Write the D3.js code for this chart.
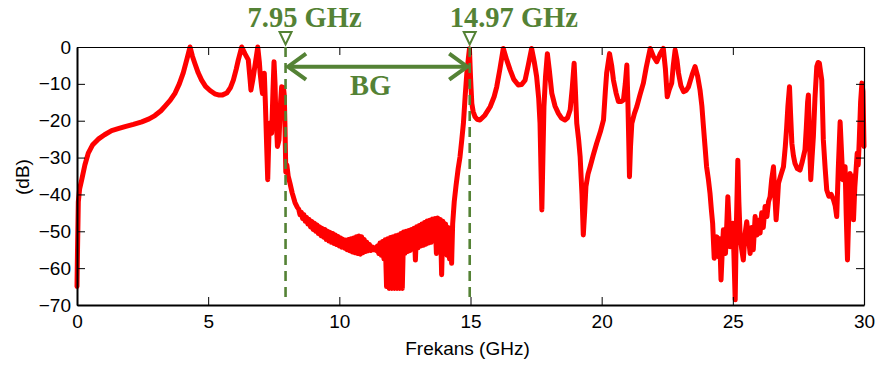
<!DOCTYPE html>
<html>
<head>
<meta charset="utf-8">
<script src="https://cdn.jsdelivr.net/npm/d3@7"></script>
<style>
  html, body { margin: 0; padding: 0; background: #ffffff; }
  svg { display: block; }
</style>
</head>
<body>
<svg id="chart" width="882" height="367"></svg>
<script>
// ---------------- DATA ----------------
const xTicks = [0, 5, 10, 15, 20, 25, 30];
const yTicks = [0, -10, -20, -30, -40, -50, -60, -70];
const xLabel = "Frekans (GHz)";
const yLabel = "(dB)";
const bandEdges = [7.95, 14.97];
const bandEdgeLabels = ["7.95 GHz", "14.97 GHz"];
const bandLabel = "BG";

// [frequency GHz, magnitude dB]
const lowBand = [
  [0, -65], [0.02, -55], [0.05, -42], [0.1, -38.5], [0.18, -36], [0.3, -32], [0.43, -28.8],
  [0.6, -26.5], [0.81, -25], [1.05, -23.8], [1.32, -22.7], [1.6, -22.1], [1.83, -21.6],
  [2.15, -21], [2.47, -20.3], [2.75, -19.5], [2.97, -18.6], [3.2, -17.3], [3.35, -16.1],
  [3.55, -14.5], [3.74, -12.5], [3.9, -10], [4.05, -7], [4.2, -3], [4.31, 0], [4.4, -2.5],
  [4.5, -4.6], [4.62, -7], [4.75, -9], [4.9, -10.7], [5.07, -11.8], [5.25, -12.7], [5.39, -13],
  [5.55, -13], [5.71, -12.5], [5.85, -11], [5.96, -9], [6.07, -6], [6.15, -3.5], [6.28, 0],
  [6.4, -1.8], [6.53, -3.5], [6.6, -9], [6.63, -11.7], [6.7, -9], [6.76, -6.2], [6.89, 0],
  [6.95, -4], [6.98, -7], [7.04, -11], [7.07, -12.6], [7.1, -10], [7.14, -7.1], [7.18, -15],
  [7.23, -27], [7.27, -36], [7.3, -28], [7.33, -20.7], [7.38, -22], [7.42, -23.4], [7.47, -12],
  [7.51, -4], [7.55, -10], [7.57, -16.2], [7.61, -22], [7.64, -27], [7.7, -25.2], [7.76, -15],
  [7.8, -10.8], [7.87, -11], [7.9, -13], [7.93, -22], [7.96, -34], [8.0, -32], [8.05, -35],
  [8.12, -37], [8.2, -39.5], [8.31, -42.2], [8.4, -43.5]
];

const stopBand = [
  [8.45, -44], [8.5, -45.5], [8.55, -44.8], [8.6, -46.5], [8.65, -45.5], [8.7, -47.3],
  [8.75, -46.2], [8.8, -48], [8.85, -46.8], [8.9, -48.8], [8.95, -47.3], [9.0, -49.5],
  [9.05, -47.8], [9.1, -50], [9.15, -48.3], [9.2, -50.6], [9.25, -48.8], [9.3, -51.2],
  [9.35, -49.2], [9.4, -51.6], [9.45, -49.5], [9.5, -52.2], [9.55, -50], [9.6, -52.6],
  [9.65, -50.3], [9.7, -53], [9.75, -50.6], [9.8, -53.3], [9.85, -51], [9.9, -53.6],
  [9.95, -51.4], [10.0, -54], [10.05, -51.8], [10.1, -54.3], [10.15, -52.2], [10.2, -54.6],
  [10.25, -52.4], [10.3, -55], [10.35, -52.2], [10.4, -55.3], [10.45, -52], [10.5, -55.6],
  [10.55, -51.8], [10.6, -55.8], [10.65, -51.5], [10.7, -56], [10.75, -51.3], [10.8, -56.2],
  [10.85, -51.5], [10.9, -55.8], [10.95, -52.2], [11.0, -55.5], [11.05, -53], [11.1, -55.3],
  [11.15, -53.6], [11.2, -55.2], [11.25, -54.2], [11.3, -55], [11.35, -54.5], [11.4, -55.2],
  [11.45, -54], [11.5, -56], [11.55, -53.2], [11.6, -56.5], [11.65, -52.8], [11.7, -57.5],
  [11.75, -52.3], [11.8, -65], [11.85, -52], [11.9, -65.5], [11.95, -51.7], [12.0, -65.5],
  [12.05, -51.5], [12.1, -65.5], [12.15, -51.2], [12.2, -65.5], [12.25, -51], [12.3, -65.5],
  [12.35, -50.6], [12.4, -65.5], [12.45, -50.2], [12.5, -56], [12.55, -50], [12.6, -55.5],
  [12.65, -49.8], [12.7, -55.2], [12.75, -49.5], [12.8, -54.8], [12.85, -49.2], [12.9, -57.8],
  [12.95, -48.8], [13.0, -54.5], [13.05, -48.4], [13.1, -54], [13.15, -48], [13.2, -53.8],
  [13.25, -47.6], [13.3, -53.5], [13.35, -47.2], [13.4, -53.2], [13.45, -47], [13.5, -53],
  [13.55, -46.7], [13.6, -52.5], [13.65, -46.5], [13.7, -56], [13.75, -46.4], [13.8, -52],
  [13.85, -46.8], [13.9, -61.8], [13.95, -47.3], [14.0, -55], [14.05, -48], [14.1, -56.5],
  [14.15, -49], [14.2, -57.5], [14.25, -52], [14.28, -58.7], [14.32, -48]
];

const highBand = [
  [14.38, -42], [14.45, -37.5], [14.53, -33], [14.6, -29.8], [14.67, -25], [14.73, -20.7],
  [14.8, -13], [14.86, -7.1], [14.92, -3], [14.96, -0.5], [15.0, -8], [15.05, -15.3],
  [15.1, -17.5], [15.17, -18.9], [15.25, -19.6], [15.36, -19.8], [15.55, -18.5], [15.75, -16.2],
  [15.9, -13.5], [16.0, -10.8], [16.12, -6], [16.25, -0.4], [16.38, -3.5], [16.51, -6.2],
  [16.65, -8.8], [16.82, -10.3], [16.95, -10.2], [17.08, -9], [17.2, -5], [17.33, -0.4],
  [17.43, -4], [17.52, -8], [17.6, -14], [17.65, -20.7], [17.72, -44.2], [17.76, -30],
  [17.8, -16.2], [17.86, -8], [17.93, -1.8], [18.0, -6], [18.1, -12.6], [18.22, -16],
  [18.35, -18], [18.47, -19.3], [18.6, -19.8], [18.7, -19.2], [18.8, -17], [18.88, -11],
  [18.95, -4.4], [19.0, -12], [19.05, -20.7], [19.12, -25], [19.18, -29.8], [19.25, -40],
  [19.3, -51], [19.35, -45], [19.4, -37.9], [19.48, -34.5], [19.56, -32.5], [19.68, -29.3],
  [19.81, -26.1], [19.95, -23], [20.07, -19.8], [20.14, -12], [20.19, -7.1], [20.3, -1.8],
  [20.38, -5], [20.45, -9], [20.55, -12.5], [20.64, -14.8], [20.75, -14.8], [20.83, -14.4],
  [20.9, -10], [20.96, -4.9], [21.0, -15], [21.04, -28], [21.06, -35.2], [21.1, -27],
  [21.15, -20.7], [21.25, -18], [21.34, -16.2], [21.46, -13], [21.59, -9.8], [21.7, -5.5],
  [21.85, -0.4], [21.97, -2.5], [22.1, -4], [22.22, -2], [22.35, -0.4], [22.43, -6],
  [22.5, -13.5], [22.58, -11.5], [22.67, -9.8], [22.73, -5], [22.8, -0.8], [22.87, -3.5],
  [22.93, -7.1], [23.02, -10.5], [23.12, -12.1], [23.22, -11.8], [23.31, -10.8], [23.45, -7.5],
  [23.56, -5.3], [23.66, -8], [23.75, -11.7], [23.82, -16], [23.88, -21.6], [23.94, -27],
  [24.0, -32.5], [24.07, -36], [24.13, -39.7], [24.18, -44], [24.23, -47.8], [24.29, -57.3],
  [24.34, -53], [24.39, -51.5], [24.43, -55], [24.46, -56.9], [24.5, -52], [24.55, -63.2],
  [24.6, -55], [24.64, -49.6], [24.68, -53], [24.72, -56], [24.77, -48], [24.81, -40.6],
  [24.86, -48], [24.9, -54.2], [24.95, -50], [25.0, -47.8], [25.04, -56], [25.09, -68.6],
  [25.13, -50], [25.19, -30.7], [25.23, -42], [25.28, -51.5], [25.34, -55], [25.4, -57.8],
  [25.46, -51], [25.53, -47.4], [25.6, -52], [25.66, -56], [25.72, -49], [25.78, -55],
  [25.85, -46], [25.92, -51], [25.98, -47], [26.04, -50.5], [26.1, -45], [26.16, -49],
  [26.23, -43.3], [26.3, -46], [26.36, -42], [26.42, -40.6], [26.48, -36], [26.55, -32.5],
  [26.6, -40], [26.65, -46.9], [26.7, -42], [26.74, -37], [26.82, -35], [26.93, -32.5],
  [27.0, -27], [27.05, -22], [27.1, -16], [27.16, -10.8], [27.2, -18], [27.25, -26.1],
  [27.31, -29.5], [27.37, -31.6], [27.46, -33], [27.56, -33.4], [27.65, -31], [27.75, -27.9],
  [27.8, -22], [27.85, -15], [27.88, -13], [27.92, -25], [27.97, -36], [28.02, -30],
  [28.07, -24.3], [28.13, -14], [28.2, -5.3], [28.25, -4.2], [28.3, -4.4], [28.35, -7],
  [28.39, -9], [28.42, -17], [28.45, -25.2], [28.52, -33], [28.58, -38.8], [28.66, -40.5],
  [28.75, -40], [28.84, -41.5], [28.9, -43], [28.96, -46], [29.02, -33], [29.09, -20.3],
  [29.14, -28], [29.19, -36], [29.24, -34], [29.28, -32.5], [29.32, -45], [29.37, -57.8],
  [29.42, -45], [29.47, -34.3], [29.52, -40], [29.56, -35], [29.6, -46.9], [29.65, -38],
  [29.7, -33], [29.74, -28.8], [29.78, -32], [29.82, -25.2], [29.87, -15], [29.92, -9.8],
  [29.96, -12], [30, -27]
];

// ---------------- DRAW ----------------
const svg = d3.select("#chart");
const W = 882, H = 367;
const margin = { left: 77, top: 47, right: 882 - 864, bottom: 367 - 305 };
const green = "#548235";
const axisFont = "'Liberation Sans', Arial, sans-serif";
const serifFont = "'Liberation Serif', 'Times New Roman', serif";

const x = d3.scaleLinear().domain([0, 30]).range([margin.left, W - margin.right]);
const y = d3.scaleLinear().domain([-70, 0]).range([H - margin.bottom, margin.top]);

svg.append("rect").attr("width", W).attr("height", H).attr("fill", "#fff");

// trace
const trace = lowBand.concat(stopBand, highBand);
const line = d3.line().x(d => x(d[0])).y(d => y(d[1]));
svg.append("path")
  .datum(trace)
  .attr("d", line)
  .attr("fill", "none")
  .attr("stroke", "#ff0000")
  .attr("stroke-width", 5)
  .attr("stroke-linejoin", "round")
  .attr("stroke-linecap", "round");

// axes
const tickLen = 8;
const gx = svg.append("g")
  .attr("transform", `translate(0,${y(-70)})`)
  .call(d3.axisBottom(x).tickValues(xTicks).tickFormat(d3.format("d")).tickSizeInner(-tickLen).tickSizeOuter(0).tickPadding(10));
const gxTop = svg.append("g")
  .attr("transform", `translate(0,${y(0)})`)
  .call(d3.axisTop(x).tickValues(xTicks).tickFormat("").tickSizeInner(-tickLen).tickSizeOuter(0));
const gy = svg.append("g")
  .attr("transform", `translate(${x(0)},0)`)
  .call(d3.axisLeft(y).tickValues(yTicks).tickFormat(d3.format("d")).tickSizeInner(-tickLen).tickSizeOuter(0).tickPadding(6));
const gyRight = svg.append("g")
  .attr("transform", `translate(${x(30)},0)`)
  .call(d3.axisRight(y).tickValues(yTicks).tickFormat("").tickSizeInner(-tickLen).tickSizeOuter(0));

[gx, gxTop, gy, gyRight].forEach(g => {
  g.selectAll("text").attr("font-family", axisFont).attr("font-size", 19).attr("fill", "#000");
  g.selectAll(".tick line").attr("stroke", "#000").attr("stroke-width", 1);
});
gx.select(".domain").attr("stroke", "#000").attr("stroke-width", 2);
gy.select(".domain").attr("stroke", "#000").attr("stroke-width", 2);
gxTop.select(".domain").attr("stroke", "#000").attr("stroke-width", 1.2);
gyRight.select(".domain").attr("stroke", "#000").attr("stroke-width", 1.2);

// axis labels
svg.append("text")
  .attr("x", (x(0) + x(30)) / 2 - 3)
  .attr("y", 355)
  .attr("text-anchor", "middle")
  .attr("font-family", axisFont)
  .attr("font-size", 19)
  .text(xLabel);
svg.append("text")
  .attr("transform", `translate(29,${(y(0) + y(-70)) / 2 + 1}) rotate(-90)`)
  .attr("text-anchor", "middle")
  .attr("font-family", axisFont)
  .attr("font-size", 19)
  .text(yLabel);

// band-gap annotations
const labelOffsets = [-38, -20];
bandEdges.forEach((f, i) => {
  const xf = x(f);
  svg.append("line")
    .attr("x1", xf).attr("x2", xf)
    .attr("y1", y(0)).attr("y2", y(-70) - 2)
    .attr("stroke", green).attr("stroke-width", 2.6)
    .attr("stroke-dasharray", "10,6");
  svg.append("path")
    .attr("d", `M${xf - 6},${32} L${xf + 6},${32} L${xf},${44.5} Z`)
    .attr("fill", "#fff").attr("stroke", green).attr("stroke-width", 2);
  svg.append("text")
    .attr("x", xf + labelOffsets[i])
    .attr("y", 27)
    .attr("font-family", serifFont)
    .attr("font-weight", "bold")
    .attr("font-size", 28.5)
    .attr("fill", green)
    .text(bandEdgeLabels[i]);
});

// double arrow
const ay = 66.7;
const ax1 = x(bandEdges[0]) + 2.5, ax2 = x(bandEdges[1]) - 2.5;
svg.append("line")
  .attr("x1", ax1).attr("x2", ax2).attr("y1", ay).attr("y2", ay)
  .attr("stroke", green).attr("stroke-width", 4);
svg.append("path")
  .attr("d", `M${ax1 + 18},${ay - 13} L${ax1},${ay} L${ax1 + 18},${ay + 13}`)
  .attr("fill", "none").attr("stroke", green).attr("stroke-width", 4).attr("stroke-linejoin", "miter");
svg.append("path")
  .attr("d", `M${ax2 - 18},${ay - 13} L${ax2},${ay} L${ax2 - 18},${ay + 13}`)
  .attr("fill", "none").attr("stroke", green).attr("stroke-width", 4).attr("stroke-linejoin", "miter");
svg.append("text")
  .attr("x", (x(bandEdges[0]) + x(bandEdges[1])) / 2 - 7)
  .attr("y", 95)
  .attr("text-anchor", "middle")
  .attr("font-family", serifFont)
  .attr("font-weight", "bold")
  .attr("font-size", 28.5)
  .attr("fill", green)
  .text(bandLabel);
</script>
</body>
</html>
